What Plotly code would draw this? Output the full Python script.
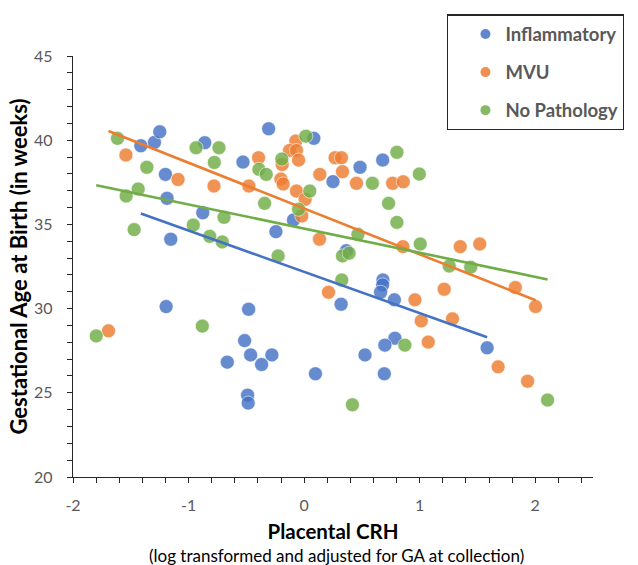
import numpy as np
import plotly.graph_objects as go

# ---------------- data ----------------
series_names = ["Inflammatory", "MVU", "No Pathology"]
series_colors = ["#4472C4", "#ED7D31", "#70AD47"]

infl_x = [-1.413, -1.295, -1.249, -1.200, -1.186, -0.877, -1.154, -0.860, -0.529, -0.307,
          -0.244, -0.092, 0.084, 0.250, 0.484, 0.680, 0.366, 0.682, -1.194, -0.480,
          -0.515, -0.463, -0.279, -0.665, -0.368, -0.489, -0.484, 0.098, 0.320, 0.680,
          0.662, 0.781, 0.786, 0.699, 0.527, 0.694, 1.584]
infl_y = [39.67, 39.87, 40.50, 37.97, 36.55, 35.69, 34.12, 39.85, 38.70, 40.68,
          34.57, 35.26, 40.11, 37.54, 38.39, 38.82, 33.44, 31.70, 30.12, 29.96,
          28.10, 27.25, 27.25, 26.82, 26.68, 24.86, 24.39, 26.13, 30.26, 31.41,
          30.97, 30.52, 28.24, 27.83, 27.25, 26.13, 27.67]

mvu_x = [-1.542, -1.091, -0.780, -0.478, -0.394, -0.201, -0.181, -0.190, -0.066, 0.009,
         -0.020, 0.133, 0.136, -0.072, -0.126, -0.066, -0.048, 0.268, 0.323, 0.332,
         0.453, 0.766, 0.858, 0.855, 1.351, 1.520, -1.693, 0.211, 0.959, 1.014,
         1.212, 1.284, 1.074, 1.679, 1.934, 2.003, 1.828]
mvu_y = [39.12, 37.67, 37.28, 37.28, 38.96, 37.69, 37.40, 38.56, 36.98, 36.49,
         35.50, 34.12, 37.97, 39.95, 39.39, 39.39, 38.82, 38.96, 38.96, 38.13,
         37.44, 37.44, 37.53, 33.68, 33.68, 33.84, 28.68, 30.97, 30.52, 29.27,
         31.15, 29.39, 28.01, 26.54, 25.69, 30.12, 31.25]

nopath_x = [-1.615, -1.361, -1.436, -1.540, -1.471, -0.935, -0.737, -0.777, -0.959, -0.817,
            -0.708, -0.693, -0.391, -0.328, -0.342, -0.225, -0.193, 0.015, 0.049, -0.048,
            0.591, 0.803, 0.997, 0.731, 0.803, 0.466, 0.332, 0.389, 0.326, 1.005,
            1.256, 1.442, -1.799, -0.881, 0.872, 0.418, 2.107]
nopath_y = [40.11, 38.39, 37.10, 36.69, 34.69, 39.55, 39.55, 38.68, 34.96, 34.29,
            33.96, 35.42, 38.27, 37.97, 36.25, 33.13, 38.88, 40.24, 36.98, 35.90,
            37.44, 39.28, 37.99, 36.25, 35.12, 34.41, 33.13, 33.29, 31.70, 33.84,
            32.53, 32.46, 28.38, 28.96, 27.83, 24.29, 24.57]

x_tick_vals = [-2, -1, 0, 1, 2]
y_tick_vals = [20, 25, 30, 35, 40, 45]

xs = [infl_x, mvu_x, nopath_x]
ys = [infl_y, mvu_y, nopath_y]

FONT = "Lato"
fig = go.Figure()

def rgba(hexc, a):
    h = hexc.lstrip("#")
    return "rgba(%d,%d,%d,%s)" % (int(h[0:2], 16), int(h[2:4], 16), int(h[4:6], 16), a)

# scatter points
for name, col, x, y in zip(series_names, series_colors, xs, ys):
    fig.add_trace(go.Scatter(
        x=x, y=y, mode="markers", name=name, showlegend=False,
        marker=dict(size=14, color=rgba(col, 0.82),
                    line=dict(width=0.8, color="rgba(255,255,255,0.7)")),
    ))

# linear trend lines (least squares over each series' data range)
for name, col, x, y in zip(series_names, series_colors, xs, ys):
    m, b = np.polyfit(np.array(x), np.array(y), 1)
    xr = np.array([min(x), max(x)])
    fig.add_trace(go.Scatter(
        x=xr, y=m * xr + b, mode="lines", showlegend=False, hoverinfo="skip",
        line=dict(color=col, width=2.6),
    ))

# legend-only entries
for i, (name, col) in enumerate(zip(series_names, series_colors)):
    fig.add_trace(go.Scatter(
        x=[None], y=[None], mode="markers", name=name, legendgroup="g%d" % i,
        marker=dict(size=10, color=rgba(col, 0.85)),
    ))

fig.update_layout(
    width=638, height=565,
    margin=dict(l=73, r=45, t=56, b=88, autoexpand=False),
    paper_bgcolor="white", plot_bgcolor="white",
    font=dict(family=FONT, color="#595959"),
    showlegend=True,
    legend=dict(
        x=0.7197, y=1.099, xanchor="left", yanchor="top",
        bgcolor="white", bordercolor="#262626", borderwidth=1.2,
        font=dict(family=FONT, size=18.5, color="#595959", weight="bold"),
        tracegroupgap=11, itemwidth=30, indentation=17,
        entrywidth=240, entrywidthmode="pixels",
    ),
    xaxis=dict(
        range=[-2, 2.5], tickmode="array", tickvals=x_tick_vals,
        ticktext=[str(v) for v in x_tick_vals],
        showgrid=False, zeroline=False,
        showline=True, linecolor="#262626", linewidth=1.4,
        ticks="outside", ticklen=5, tickwidth=1.2, tickcolor="#262626",
        minor=dict(dtick=0.2, tick0=-2, ticks="outside", ticklen=5, tickwidth=1.2,
                   tickcolor="#262626", showgrid=False),
        tickfont=dict(family=FONT, size=16, color="#595959"),
        ticklabelstandoff=9,
        title=dict(text="<b>Placental CRH</b>", standoff=11,
                   font=dict(family=FONT, size=20.5, color="#000000")),
    ),
    yaxis=dict(
        range=[20, 45], tickmode="array", tickvals=y_tick_vals,
        ticktext=[str(v) for v in y_tick_vals],
        showgrid=False, zeroline=False,
        showline=True, linecolor="#262626", linewidth=1.4,
        ticks="outside", ticklen=5, tickwidth=1.2, tickcolor="#262626",
        minor=dict(dtick=1, tick0=20, ticks="outside", ticklen=5, tickwidth=1.2,
                   tickcolor="#262626", showgrid=False),
        tickfont=dict(family=FONT, size=16, color="#595959"),
        ticklabelstandoff=11,
        title=dict(text="<b>Gestational Age at Birth (in weeks)</b>", standoff=0,
                   font=dict(family=FONT, size=22, color="#000000")),
    ),
    annotations=[dict(
        text="(log transformed and adjusted for GA at collection)",
        xref="paper", yref="paper", x=0.506, y=-0.1855,
        xanchor="center", yanchor="middle", showarrow=False,
        font=dict(family=FONT, size=17, color="#000000"),
    )],
)

fig.write_html("out.html", config={"displayModeBar": False},
               post_script="document.body.style.margin='0px';document.body.style.overflow='hidden';")
